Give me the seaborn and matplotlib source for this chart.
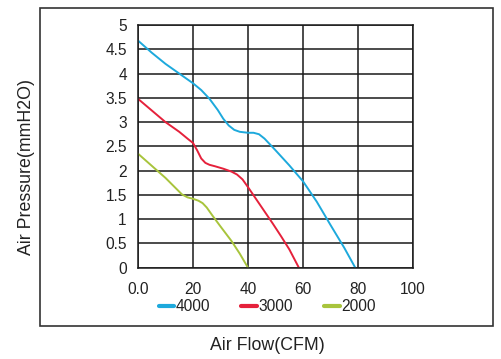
import matplotlib
matplotlib.use("Agg")
import matplotlib.pyplot as plt
import matplotlib.patches as patches
import pandas as pd
import seaborn as sns

# Fan curves (air flow in CFM, pressure in mmH2O)
flow_4000 = [0, 5, 10, 15, 20, 23, 26, 29, 31, 33, 35, 37, 40, 42, 44, 46, 48, 50, 55, 60, 65, 70, 75, 79]
pres_4000 = [4.68, 4.43, 4.2, 4.0, 3.8, 3.66, 3.48, 3.25, 3.07, 2.93, 2.84, 2.8, 2.78, 2.78, 2.75, 2.66, 2.54, 2.42, 2.11, 1.78, 1.36, 0.88, 0.41, 0.0]

flow_3000 = [0, 5, 10, 15, 18, 20, 21.5, 23, 24.5, 26, 28, 31, 34, 36, 38, 40, 43, 46, 49, 52, 55, 58.5]
pres_3000 = [3.48, 3.24, 3.0, 2.8, 2.66, 2.57, 2.42, 2.25, 2.16, 2.12, 2.09, 2.04, 1.98, 1.92, 1.82, 1.66, 1.41, 1.16, 0.91, 0.65, 0.38, 0.0]

flow_2000 = [0, 5, 10, 13, 16, 18, 20, 22, 23.5, 25, 27, 30, 34, 37, 40]
pres_2000 = [2.35, 2.1, 1.85, 1.68, 1.51, 1.45, 1.42, 1.38, 1.33, 1.24, 1.08, 0.85, 0.55, 0.29, 0.0]

speeds = ["4000", "3000", "2000"]
colors = ["#1DA9DC", "#E5213B", "#A8C43C"]
x_ticks = [0, 20, 40, 60, 80, 100]
x_tick_labels = ["0.0", "20", "40", "60", "80", "100"]
y_ticks = [0, 0.5, 1, 1.5, 2, 2.5, 3, 3.5, 4, 4.5, 5]
y_tick_labels = ["0", "0.5", "1", "1.5", "2", "2.5", "3", "3.5", "4", "4.5", "5"]

df = pd.concat([
    pd.DataFrame({"flow": flow_4000, "pressure": pres_4000, "speed": "4000"}),
    pd.DataFrame({"flow": flow_3000, "pressure": pres_3000, "speed": "3000"}),
    pd.DataFrame({"flow": flow_2000, "pressure": pres_2000, "speed": "2000"}),
])

sns.set_style("white")
plt.rcParams["font.family"] = ["Liberation Sans", "DejaVu Sans"]

fig = plt.figure(figsize=(5.01, 3.59), dpi=100)
ax = fig.add_axes([0.2754, 0.2543, 0.549, 0.676])

# outer frame around the whole chart
fig.patches.append(patches.Rectangle((0.0798, 0.0919), 0.904, 0.886, transform=fig.transFigure,
                                     fill=False, edgecolor="#333333", linewidth=1.2))

sns.lineplot(data=df, x="flow", y="pressure", hue="speed", hue_order=speeds,
             palette=colors, linewidth=1.4, sort=False, estimator=None, ax=ax, legend=False)

ax.set_xlim(0, 100)
ax.set_ylim(0, 5)
ax.set_xticks(x_ticks)
ax.set_xticklabels(x_tick_labels)
ax.set_yticks(y_ticks)
ax.set_yticklabels(y_tick_labels)
ax.tick_params(axis="both", length=0, labelsize=11.2, colors="#222222")
ax.tick_params(axis="x", pad=10)
ax.tick_params(axis="y", pad=8)
ax.grid(True, color="#1a1a1a", linewidth=1.1)
ax.set_axisbelow(True)
for s in ax.spines.values():
    s.set_color("#1a1a1a")
    s.set_linewidth(1.1)

ax.set_xlabel("Air Flow(CFM)", fontsize=12.8, color="#222222", va="center")
ax.xaxis.set_label_coords(0.469, -0.321)
ax.set_ylabel("Air Pressure(mmH2O)", fontsize=12.8, color="#222222", va="center")
ax.yaxis.set_label_coords(-0.407, 0.417)

handles = [plt.Line2D([], [], color=c, linewidth=3) for c in colors]
fig.legend(handles, speeds, loc="center", bbox_to_anchor=(0.533, 0.1457), ncol=3,
           frameon=False, fontsize=11.2, handlelength=1.0, handletextpad=0.1,
           columnspacing=2.0, labelcolor="#222222")

fig.savefig("out.png", dpi=100)
